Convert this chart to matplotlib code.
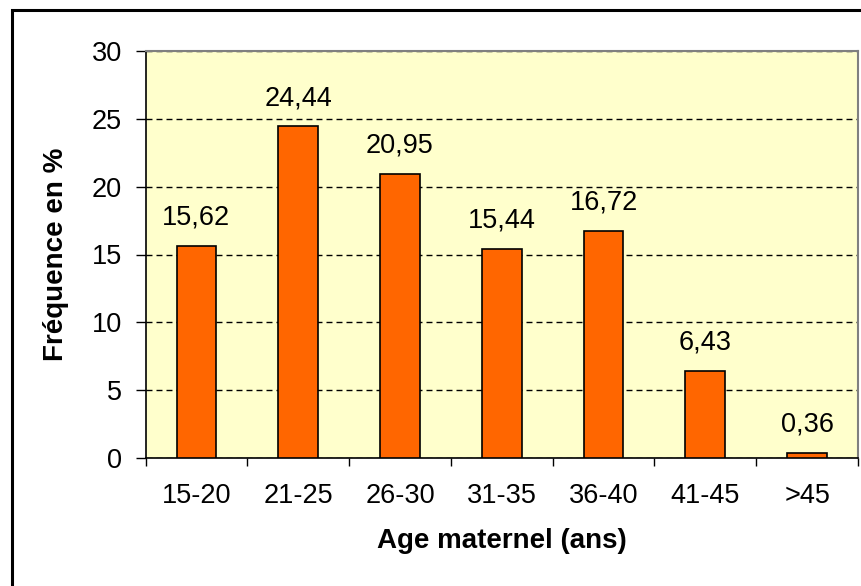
import matplotlib
matplotlib.use("Agg")
import matplotlib.pyplot as plt
from matplotlib.patches import Rectangle
import numpy as np

categories = ["15-20", "21-25", "26-30", "31-35", "36-40", "41-45", ">45"]
values = [15.62, 24.44, 20.95, 15.44, 16.72, 6.43, 0.36]
labels = ["15,62", "24,44", "20,95", "15,44", "16,72", "6,43", "0,36"]
yticks = [0, 5, 10, 15, 20, 25, 30]

plt.rcParams['font.family'] = ['Liberation Sans', 'DejaVu Sans']

fig = plt.figure(figsize=(8.61, 5.86), dpi=100)
fig.patch.set_facecolor('white')
# outer frame (clipped at right and bottom)
fig.patches.append(Rectangle((12/861, -0.05), 1.0, (586-10)/586 + 0.05,
                             transform=fig.transFigure, fill=False,
                             edgecolor='black', linewidth=2.2))

ax = fig.add_axes([145.5/861, 1-458/586, (858-145.5)/861, (458-51)/586])
ax.set_facecolor('#FFFFCC')
x = np.arange(len(categories))
ax.bar(x, values, width=0.39, color='#FF6600', edgecolor='black', linewidth=1.2, zorder=3)
for xi, v, lab in zip(x, values, labels):
    ax.annotate(lab, (xi, v), xytext=(0, 11), textcoords='offset points',
                ha='center', va='bottom', fontsize=19.5)

ax.set_xlim(-0.5, len(categories) - 0.5)
ax.set_ylim(0, 30)
ax.set_yticks(yticks)
ax.set_yticklabels([str(t) for t in yticks], fontsize=19.5)
ax.yaxis.grid(True, linestyle=(0, (4.3, 2.9)), color='black', linewidth=1.0, zorder=1)
ax.set_axisbelow(True)

ax.set_xticks(np.arange(-0.5, len(categories), 1.0))
ax.set_xticklabels([])
ax.set_xticks(x, minor=True)
ax.set_xticklabels(categories, minor=True, fontsize=19.5)
ax.tick_params(axis='x', which='minor', length=0, pad=18)
ax.tick_params(axis='x', which='major', length=6, width=1, direction='out')
ax.tick_params(axis='y', length=7, width=1, direction='out', pad=10)

for s in ['top', 'right']:
    ax.spines[s].set_color('#808080')
    ax.spines[s].set_linewidth(1.5)
for s in ['left', 'bottom']:
    ax.spines[s].set_color('black')
    ax.spines[s].set_linewidth(1.2)

ax.set_ylabel("Fréquence en %", fontsize=20, fontweight='bold', labelpad=16)
ax.set_xlabel("Age maternel (ans)", fontsize=20, fontweight='bold', labelpad=14)

fig.savefig("out.png", dpi=100)
